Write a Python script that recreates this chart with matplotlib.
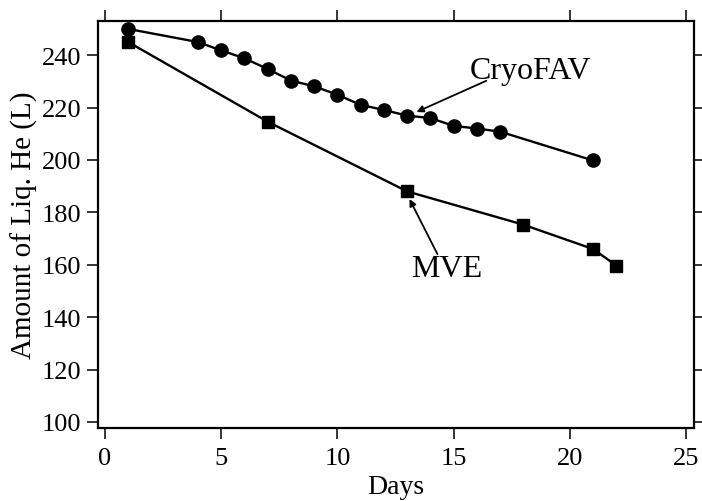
import numpy as np
import matplotlib
matplotlib.use("Agg")
import matplotlib.pyplot as plt

# data
cryo_days = [1, 4, 5, 6, 7, 8, 9, 10, 11, 12, 13, 14, 15, 16, 17, 21]
cryo_he = [250, 245, 241.8, 238.8, 234.7, 230.3, 228.1, 224.9, 221, 219.1,
           216.9, 216, 213, 212, 210.8, 199.8]
mve_days = [1, 7, 13, 18, 21, 22]
mve_he = [245, 214.6, 188.0, 175.3, 166, 159.7]

plt.rcParams['font.family'] = ['Liberation Serif', 'DejaVu Serif']

fig = plt.figure(figsize=(7.02, 5.02), dpi=100)
ax = fig.add_axes([0.1396, 0.1454, 0.849, 0.8106])

ax.plot(cryo_days, cryo_he, color='black', lw=1.7, marker='o', ms=9.5)
ax.plot(mve_days, mve_he, color='black', lw=1.7, marker='s', ms=9)

# labels and their pointer arrows
arrow = dict(arrowstyle='-|>', color='black', lw=1.3,
             shrinkA=0, shrinkB=0, mutation_scale=10)
ax.text(18.3, 234.3, 'CryoFAV', fontsize=23, ha='center', va='center')
ax.annotate('', xy=(13.4, 218.3), xytext=(16.4, 230.2), arrowprops=arrow)
ax.text(14.7, 158.6, 'MVE', fontsize=23, ha='center', va='center')
ax.annotate('', xy=(13.1, 185.1), xytext=(14.3, 164.1), arrowprops=arrow)

ax.set_xlim(-0.3, 25.34)
ax.set_ylim(97.7, 253)
ax.set_xticks(np.arange(0, 26, 5))
ax.set_yticks(np.arange(100, 241, 20))
ax.tick_params(direction='out', length=8, width=1.1, labelsize=19,
               top=True, right=True, pad=4)
ax.tick_params(axis='x', pad=6)
for s in ax.spines.values():
    s.set_linewidth(1.6)

ax.set_xlabel('Days', fontsize=20, labelpad=3)
ax.set_ylabel('Amount of Liq. He (L)', fontsize=21, labelpad=3)

fig.savefig('out.png', dpi=100)
